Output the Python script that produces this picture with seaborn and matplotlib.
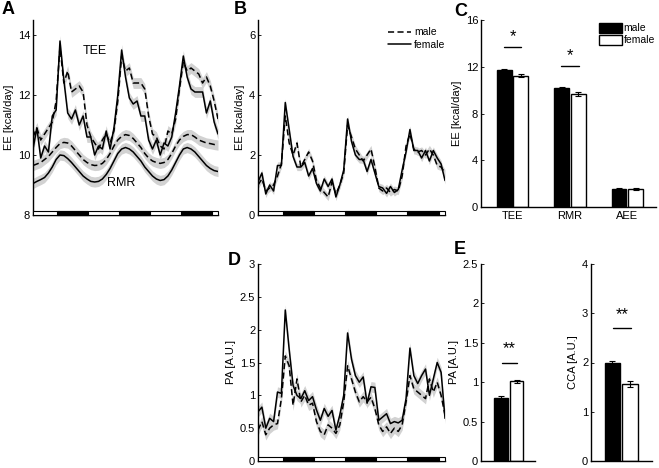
import numpy as np
import pandas as pd
import seaborn as sns
import matplotlib.pyplot as plt
from matplotlib.patches import Rectangle
from matplotlib.lines import Line2D
import matplotlib.transforms as mtransforms

sns.set_style('white')
plt.rcParams['font.family'] = ['Liberation Sans', 'DejaVu Sans']
plt.rcParams['font.size'] = 8
plt.rcParams['text.color'] = 'black'
plt.rcParams['axes.labelcolor'] = 'black'

# ---------------- data ----------------
# time axis in hours (1.5 h bins over 3 days)
hours = np.arange(0, 72.1, 1.5)
dark_onsets = [9.5, 33.5, 57.5]
dark_len = 12

# A: total energy expenditure and resting metabolic rate
tee_male = np.array([10.6, 10.9, 10.5, 10.7, 10.9, 11.1, 11.8, 13.6, 12.4, 12.8,
                     12.1, 12.2, 12.3, 12.1, 11.0, 10.6, 10.4, 10.2, 10.5, 10.7,
                     10.4, 10.8, 11.8, 13.3, 12.8, 12.9, 12.4, 12.4, 12.4, 12.2,
                     11.3, 10.7, 10.6, 10.3, 10.2, 10.8, 10.7, 11.2, 12.2, 13.1,
                     12.8, 12.9, 12.8, 12.7, 12.4, 12.6, 12.3, 11.8, 11.2])
tee_female = np.array([10.2, 10.9, 9.9, 10.3, 10.1, 11.3, 11.5, 13.8, 12.5, 11.4,
                       11.2, 11.5, 11.0, 11.3, 10.6, 10.6, 10.0, 10.3, 10.2, 10.8,
                       10.2, 10.9, 12.0, 13.5, 12.6, 11.9, 11.7, 11.8, 11.3, 11.3,
                       10.5, 10.2, 10.5, 10.0, 10.4, 10.3, 10.6, 11.4, 12.3, 13.3,
                       12.6, 12.2, 12.1, 12.1, 12.1, 11.4, 11.8, 11.1, 10.7])
rmr_male = np.array([9.65, 9.7, 9.75, 9.85, 9.95, 10.1, 10.25, 10.38, 10.42, 10.4,
                     10.3, 10.15, 10.0, 9.85, 9.75, 9.68, 9.65, 9.66, 9.72, 9.85,
                     10.05, 10.3, 10.5, 10.62, 10.68, 10.65, 10.55, 10.4, 10.25, 10.05,
                     9.9, 9.8, 9.75, 9.72, 9.75, 9.85, 10.05, 10.3, 10.5, 10.62,
                     10.68, 10.68, 10.6, 10.5, 10.45, 10.4, 10.38, 10.35, 10.33])
rmr_female = np.array([9.05, 9.12, 9.18, 9.25, 9.4, 9.6, 9.85, 10.0, 9.98, 9.88,
                       9.75, 9.6, 9.45, 9.3, 9.2, 9.12, 9.1, 9.12, 9.2, 9.35,
                       9.55, 9.8, 10.05, 10.2, 10.25, 10.2, 10.1, 9.95, 9.8, 9.6,
                       9.45, 9.3, 9.2, 9.15, 9.18, 9.3, 9.5, 9.75, 10.0, 10.2,
                       10.25, 10.2, 10.1, 9.95, 9.8, 9.65, 9.55, 9.48, 9.45])
tee_sem = 0.18
rmr_sem = 0.17

# B: activity energy expenditure
aee_male = np.array([1.0, 1.2, 0.8, 0.9, 1.0, 1.3, 1.7, 3.3, 2.4, 2.0,
                     2.4, 1.6, 1.85, 2.1, 1.8, 1.15, 0.9, 0.75, 0.6, 1.1,
                     0.7, 1.0, 1.4, 3.0, 2.6, 2.2, 2.0, 1.8, 2.0, 2.2,
                     1.6, 0.9, 0.8, 0.9, 0.75, 0.85, 0.8, 1.3, 2.3, 2.7,
                     2.2, 2.1, 2.15, 2.0, 2.2, 2.0, 1.65, 1.6, 1.4])
aee_female = np.array([1.1, 1.4, 0.7, 1.0, 0.8, 1.65, 1.65, 3.75, 2.85, 1.95,
                       1.6, 1.6, 1.75, 1.3, 1.55, 1.05, 0.8, 1.2, 0.95, 1.2,
                       0.6, 1.0, 1.5, 3.2, 2.45, 2.0, 1.85, 1.85, 1.45, 1.85,
                       1.4, 0.95, 0.9, 0.72, 0.95, 0.75, 0.85, 1.5, 2.1, 2.85,
                       2.15, 2.15, 1.9, 2.15, 1.8, 2.15, 1.9, 1.7, 1.15])
aee_sem = 0.12

# D: physical activity
pa_male = np.array([0.47, 0.6, 0.4, 0.5, 0.55, 0.57, 0.95, 1.6, 1.45, 0.85,
                    1.25, 0.9, 1.0, 0.85, 0.88, 0.6, 0.45, 0.4, 0.55, 0.5,
                    0.42, 0.55, 0.9, 1.45, 1.25, 1.05, 0.9, 0.98, 0.9, 0.97,
                    0.8, 0.55, 0.45, 0.52, 0.42, 0.5, 0.45, 0.55, 0.9, 1.3,
                    1.1, 1.05, 1.0, 0.95, 1.25, 1.05, 1.2, 1.0, 0.7])
pa_female = np.array([0.75, 0.82, 0.5, 0.65, 0.6, 1.05, 1.03, 2.3, 1.7, 1.15,
                      1.0, 0.95, 1.07, 0.92, 0.98, 0.78, 0.62, 0.8, 0.68, 0.77,
                      0.47, 0.7, 1.0, 1.95, 1.55, 1.3, 1.2, 1.28, 0.88, 1.13,
                      1.12, 0.62, 0.67, 0.72, 0.57, 0.6, 0.58, 0.62, 0.95, 1.72,
                      1.3, 1.18, 1.3, 1.4, 1.0, 1.25, 1.5, 1.35, 0.65])
pa_sem = 0.08

# C: mean energy expenditure per component
measures = ['TEE', 'RMR', 'AEE']
c_male = [11.75, 10.15, 1.55]
c_female = [11.25, 9.65, 1.52]
c_male_sem = [0.08, 0.08, 0.05]
c_female_sem = [0.15, 0.15, 0.07]

# E: mean physical activity and cage activity
sexes = ['male', 'female']
pa_means = [0.80, 1.01]
pa_means_sem = [0.03, 0.02]
cca_means = [1.99, 1.57]
cca_means_sem = [0.05, 0.06]

# ---------------- figure ----------------
W, H = 659, 468
fig = plt.figure(figsize=(W / 100, H / 100), dpi=100)


def px_axes(x0, y0, x1, y1):
    return fig.add_axes([x0 / W, 1 - y1 / H, (x1 - x0) / W, (y1 - y0) / H])


def style_axes(ax):
    sns.despine(ax=ax)
    for s in ['left', 'bottom']:
        ax.spines[s].set_linewidth(1.0)
        ax.spines[s].set_color('black')
    ax.tick_params(direction='in', length=2.5, width=0.6, pad=2, labelsize=8,
                   colors='black', left=True, bottom=False)


def light_dark_bar(ax):
    tr = mtransforms.blended_transform_factory(ax.transData, ax.transAxes)
    ax.add_patch(Rectangle((hours[0], 0), hours[-1] - hours[0], 0.022, transform=tr,
                           facecolor='white', edgecolor='black', lw=0.8,
                           clip_on=False, zorder=5))
    for d in dark_onsets:
        ax.add_patch(Rectangle((d, 0), dark_len, 0.022, transform=tr,
                               facecolor='black', edgecolor='black', lw=0.8,
                               clip_on=False, zorder=6))


def traces(ax, pairs):
    for y, sem, ls in pairs:
        ax.fill_between(hours, y - sem, y + sem, color='#d2d2d2', lw=0, zorder=1)
    for y, sem, ls in pairs:
        sns.lineplot(x=hours, y=y, ax=ax, color='black', lw=1.1, linestyle=ls, zorder=3)
    ax.set_xlim(hours[0], hours[-1])
    ax.set_xticks([])
    light_dark_bar(ax)


dash = (0, (4, 2.2))

# panel A
axA = px_axes(33, 20, 218, 215)
traces(axA, [(tee_male, tee_sem, dash), (tee_female, tee_sem, '-'),
             (rmr_male, rmr_sem, dash), (rmr_female, rmr_sem, '-')])
axA.set_ylim(8, 14.5)
axA.set_yticks([8, 10, 12, 14])
axA.set_ylabel('EE [kcal/day]', fontsize=8, labelpad=3)
axA.text(24, 13.45, 'TEE', fontsize=9, ha='center', va='center')
axA.text(34.5, 9.08, 'RMR', fontsize=9, ha='center', va='center')
style_axes(axA)

# panel B
axB = px_axes(258, 20, 445, 215)
traces(axB, [(aee_male, aee_sem, dash), (aee_female, aee_sem, '-')])
axB.set_ylim(0, 6.5)
axB.set_yticks([0, 2, 4, 6])
axB.set_ylabel('EE [kcal/day]', fontsize=8, labelpad=3)
style_axes(axB)
handles = [Line2D([], [], color='black', lw=1.1, linestyle=dash),
           Line2D([], [], color='black', lw=1.1)]
axB.legend(handles, ['male', 'female'], loc='upper right', frameon=False,
           fontsize=7.5, handlelength=2.2, handletextpad=0.3, borderpad=0.2,
           labelspacing=0.25, bbox_to_anchor=(1.04, 1.0))

# panel D
axD = px_axes(258, 264, 445, 461)
traces(axD, [(pa_male, pa_sem, dash), (pa_female, pa_sem, '-')])
axD.set_ylim(0, 3)
axD.set_yticks([0, 0.5, 1, 1.5, 2, 2.5, 3])
axD.set_yticklabels(['0', '0.5', '1', '1.5', '2', '2.5', '3'])
axD.set_ylabel('PA [A.U.]', fontsize=8, labelpad=3)
style_axes(axD)

pal = {'male': 'black', 'female': 'white'}


def add_errorbars(ax, sems_per_hue):
    for cont, sems in zip(ax.containers, sems_per_hue):
        xs = [b.get_x() + b.get_width() / 2 for b in cont]
        ys = [b.get_height() for b in cont]
        ax.errorbar(xs, ys, yerr=sems, fmt='none', ecolor='black',
                    elinewidth=0.8, capsize=2.3, capthick=0.8, zorder=4)


# panel C
c_df = pd.DataFrame({'measure': measures * 2,
                     'sex': ['male'] * 3 + ['female'] * 3,
                     'value': c_male + c_female})
axC = px_axes(481, 20, 656, 207)
sns.barplot(data=c_df, x='measure', y='value', hue='sex', palette=pal,
            edgecolor='black', linewidth=1.0, width=0.58, gap=0.1,
            errorbar=None, ax=axC)
add_errorbars(axC, [c_male_sem, c_female_sem])
axC.set_xlim(-0.55, 2.5)
axC.set_ylim(0, 16)
axC.set_yticks([0, 4, 8, 12, 16])
axC.set_xlabel('')
axC.set_ylabel('EE [kcal/day]', fontsize=8, labelpad=3)
axC.legend(loc='upper right', frameon=False, fontsize=7.5, handlelength=2.2,
           handleheight=1.1, handletextpad=0.2, borderpad=0.1, labelspacing=0.15,
           bbox_to_anchor=(1.03, 1.02))
for i in [0, 1]:
    top = max(c_male[i], c_female[i])
    axC.plot([i - 0.15, i + 0.15], [top + 1.9, top + 1.9], color='black', lw=1.0)
    axC.text(i, top + 2.2, '*', ha='center', va='bottom', fontsize=12)
style_axes(axC)
axC.tick_params(axis='x', pad=3, labelsize=8)


def small_bars(ax, means, sems, ymax, yticks, ylabel, xlim):
    df = pd.DataFrame({'sex': sexes, 'value': means})
    sns.barplot(data=df, x='sex', y='value', hue='sex', palette=pal,
                edgecolor='black', linewidth=1.0, width=0.88,
                errorbar=None, legend=False, ax=ax)
    xs = [b.get_x() + b.get_width() / 2 for b in ax.patches]
    ax.errorbar(xs, means, yerr=sems, fmt='none', ecolor='black',
                elinewidth=0.8, capsize=2.3, capthick=0.8, zorder=4)
    ax.set_xlim(*xlim)
    ax.set_ylim(0, ymax)
    ax.set_yticks(yticks)
    ax.set_xticks([])
    ax.set_xlabel('')
    ax.set_ylabel(ylabel, fontsize=8, labelpad=3)
    style_axes(ax)


axE1 = px_axes(481, 264, 535, 461)
small_bars(axE1, pa_means, pa_means_sem, 2.5, [0, 0.5, 1, 1.5, 2, 2.5],
           'PA [A.U.]', (-1.29, 2.19))
axE1.set_yticklabels(['0', '0.5', '1', '1.5', '2', '2.5'])
axE1.plot([0.05, 1.0], [1.25, 1.25], color='black', lw=1.0)
axE1.text(0.5, 1.33, '**', ha='center', va='bottom', fontsize=12)

axE2 = px_axes(591, 264, 652, 461)
small_bars(axE2, cca_means, cca_means_sem, 4, [0, 1, 2, 3, 4],
           'CCA [A.U.]', (-1.23, 2.26))
axE2.plot([0.03, 1.06], [2.7, 2.7], color='black', lw=1.0)
axE2.text(0.55, 2.82, '**', ha='center', va='bottom', fontsize=12)

# panel letters
for lab, x, y in [('A', 2, 1), ('B', 234, 1), ('C', 454, 3), ('D', 228, 252), ('E', 454, 241)]:
    fig.text(x / W, 1 - y / H, lab, fontsize=13, fontweight='bold', ha='left', va='top')

fig.savefig('out.png', dpi=100)
